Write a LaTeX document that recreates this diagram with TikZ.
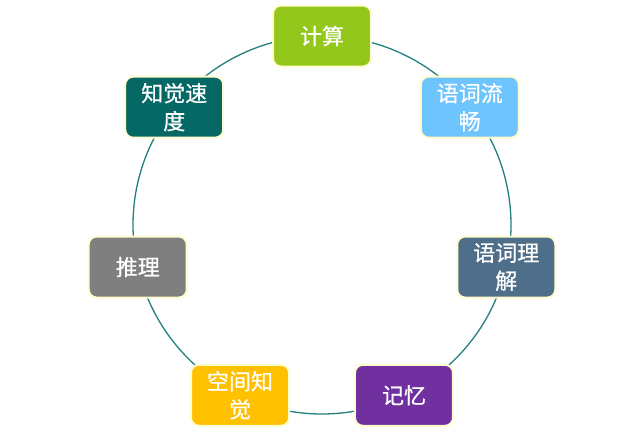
\documentclass[tikz,border=0pt]{standalone}
\usepackage{fontspec}
\newfontfamily\cjk[FakeBold=0.6]{Noto Sans CJK SC}
\definecolor{ringline}{HTML}{23807F}
\definecolor{boxedge}{HTML}{FFFCCF}
\definecolor{jisuan}{HTML}{93C71B}
\definecolor{liuchang}{HTML}{6EC4FD}
\definecolor{lijie}{HTML}{4F6E89}
\definecolor{jiyi}{HTML}{7030A0}
\definecolor{kongjian}{HTML}{FFC000}
\definecolor{tuili}{HTML}{7F7F7F}
\definecolor{sudu}{HTML}{066865}
\begin{document}
\begin{tikzpicture}[x=1pt, y=1pt,
  ability/.style={rectangle, rounded corners=8pt, draw=boxedge, line width=2pt,
    minimum width=98pt, minimum height=61pt, text=white, align=center,
    inner sep=2pt, font=\cjk\fontsize{22}{28}\selectfont},
  ring/.style={draw=ringline, line width=1.3pt}
]
  \useasboundingbox (-322,-207) rectangle (322,225);
  \draw[ring] (0,0) circle (189);

  \node[ability, fill=jisuan]   (jisuan)   at (90:189)      {计算};
  \node[ability, fill=liuchang] (liuchang) at (38.57:189)   {语词流\\畅};
  \node[ability, fill=lijie]    (lijie)    at (-12.86:189)  {语词理\\解};
  \node[ability, fill=jiyi]     (jiyi)     at (-64.29:189)  {记忆};
  \node[ability, fill=kongjian] (kongjian) at (-115.71:189) {空间知\\觉};
  \node[ability, fill=tuili]    (tuili)    at (-167.14:189) {推理};
  \node[ability, fill=sudu]     (sudu)     at (141.43:189)  {知觉速\\度};
\end{tikzpicture}
\end{document}
